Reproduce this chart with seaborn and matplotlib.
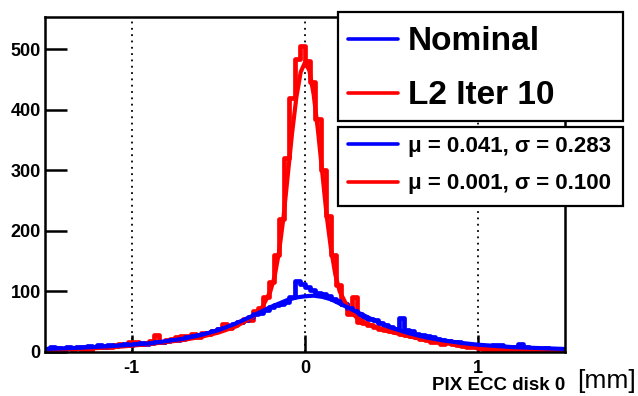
import numpy as np
import pandas as pd
import matplotlib
matplotlib.use("Agg")
import matplotlib.pyplot as plt
from matplotlib.patches import Rectangle
from matplotlib.lines import Line2D
import seaborn as sns

# histogram binning: 100 bins from -1.5 to 1.5
bin_edges = np.linspace(-1.5, 1.5, 101)
bin_centers = 0.5 * (bin_edges[:-1] + bin_edges[1:])

# bin contents (left to right)
nominal_counts = [
    5, 8, 6, 5, 8, 7, 9, 8, 10, 9,
    11, 9, 12, 10, 11, 13, 12, 14, 15, 13,
    15, 17, 16, 18, 20, 19, 22, 24, 26, 28,
    30, 32, 35, 38, 40, 42, 46, 50, 53, 57,
    62, 65, 70, 74, 77, 80, 82, 90, 118, 113,
    107, 102, 97, 96, 92, 88, 85, 80, 72, 68,
    62, 58, 55, 52, 48, 45, 42, 38, 56, 36,
    34, 30, 28, 26, 24, 22, 20, 18, 17, 16,
    14, 13, 12, 11, 10, 9, 12, 11, 9, 8,
    9, 13, 8, 7, 7, 5, 6, 5, 4, 3,
]
l2_counts = [
    3, 1, 4, 5, 6, 5, 7, 1, 2, 8,
    9, 10, 8, 12, 13, 12, 16, 17, 14, 15,
    18, 28, 17, 20, 22, 24, 27, 26, 30, 25,
    32, 29, 35, 38, 47, 40, 45, 50, 55, 52,
    68, 72, 90, 115, 160, 220, 320, 420, 483, 505,
    480, 445, 385, 300, 225, 160, 110, 80, 62, 90,
    50, 48, 45, 42, 38, 36, 34, 33, 30, 28,
    26, 25, 21, 20, 17, 16, 14, 18, 13, 12,
    10, 9, 8, 7, 5, 3, 2, 1, 1, 0,
    2, 1, 1, 2, 3, 1, 0, 0, 3, 1,
]

# fitted curves
nominal_fit_x = [-1.5, -1.3, -1.1, -0.9, -0.7, -0.6, -0.5, -0.4, -0.3, -0.2,
                 -0.1, -0.05, 0.0, 0.05, 0.1, 0.15, 0.2, 0.3, 0.4, 0.5,
                 0.6, 0.7, 0.8, 0.9, 1.0, 1.2, 1.5]
nominal_fit_y = [5, 7, 10, 14, 22, 28, 36, 47, 60, 74,
                 86, 90, 92, 93, 91, 87, 80, 66, 52, 40,
                 31, 24, 19, 15, 12, 8, 5]
l2_fit_x = [-1.5, -1.3, -1.1, -0.9, -0.7, -0.6, -0.5, -0.4, -0.35, -0.3,
            -0.25, -0.2, -0.175, -0.15, -0.125, -0.1, -0.075, -0.05, -0.025, 0.0,
            0.025, 0.05, 0.075, 0.1, 0.125, 0.15, 0.175, 0.2, 0.25, 0.3,
            0.35, 0.4, 0.5, 0.6, 0.7, 0.8, 0.9, 1.0, 1.2, 1.5]
l2_fit_y = [3, 5, 8, 13, 20, 25, 32, 42, 50, 58,
            72, 100, 125, 165, 220, 290, 360, 420, 462, 478,
            465, 425, 365, 295, 225, 170, 128, 100, 72, 56,
            48, 42, 33, 26, 20, 15, 11, 8, 4, 1]

series_labels = ["Nominal", "L2 Iter 10"]
fit_labels = ["\u03bc = 0.041, \u03c3 = 0.283", "\u03bc = 0.001, \u03c3 = 0.100"]
colors = ["#0000ff", "#ff0000"]

sns.set_style("ticks")
plt.rcParams["font.family"] = ["Liberation Sans", "DejaVu Sans"]
plt.rcParams["font.weight"] = "bold"
plt.rcParams["text.color"] = "black"
plt.rcParams["xtick.color"] = "black"
plt.rcParams["ytick.color"] = "black"
plt.rcParams["xtick.labelcolor"] = "black"
plt.rcParams["ytick.labelcolor"] = "black"

W, H = 638, 396
fig = plt.figure(figsize=(W / 100, H / 100), dpi=100)
ax = fig.add_axes([45 / W, 1 - 352 / H, 520 / W, 335 / H])

# dotted grid at the major x ticks
for xv in [-1, 0, 1]:
    ax.axvline(xv, color="black", ls=(0, (1, 2.5)), lw=1.3, zorder=0)

hist_df = pd.DataFrame({
    "x": np.concatenate([bin_centers, bin_centers]),
    "w": np.array(nominal_counts + l2_counts, dtype=float),
    "series": [series_labels[0]] * 100 + [series_labels[1]] * 100,
})

# red first, blue on top
for name, col in [(series_labels[1], colors[1]), (series_labels[0], colors[0])]:
    sub = hist_df[hist_df["series"] == name].reset_index(drop=True)
    sns.histplot(data=sub, x="x", weights="w", binwidth=0.03, binrange=(-1.5, 1.5),
                 element="step", fill=False, color=col, linewidth=3.4, ax=ax)

sns.lineplot(x=l2_fit_x, y=l2_fit_y, color=colors[1], linewidth=3, ax=ax)
sns.lineplot(x=nominal_fit_x, y=nominal_fit_y, color=colors[0], linewidth=3, ax=ax)

ax.set_xlim(-1.5, 1.5)
ax.set_ylim(0, 553)
ax.set_xticks([-1, 0, 1])
ax.set_xticklabels(["-1", "0", "1"])
ax.set_yticks([0, 100, 200, 300, 400, 500])
ax.tick_params(axis="y", direction="in", length=16, width=1.8, labelsize=13, pad=3,
               colors="black")
ax.tick_params(axis="x", direction="in", length=12, width=1.8, labelsize=13, pad=6,
               colors="black")
for lab in ax.get_xticklabels() + ax.get_yticklabels():
    lab.set_fontweight("bold")
for sp in ax.spines.values():
    sp.set_visible(True)
    sp.set_linewidth(1.8)
    sp.set_color("black")
ax.set_xlabel("")
ax.set_ylabel("")

# axis titles
fig.text(565 / W, 1 - 386 / H, "PIX ECC disk 0", ha="right", va="center",
         fontsize=13.5, fontweight="bold", color="black")
fig.text(636 / W, 1 - 381 / H, "[mm]", ha="right", va="center",
         fontsize=19, fontweight="normal", color="black")


def fx(px):
    return px / W


def fy(py):
    return 1 - py / H


# legend boxes drawn in figure pixels
boxes = [(338, 12, 623, 121), (338, 127, 623, 206)]
for x0, y0, x1, y1 in boxes:
    fig.patches.append(Rectangle((fx(x0), fy(y1)), fx(x1) - fx(x0), fy(y0) - fy(y1),
                                 transform=fig.transFigure, facecolor="white",
                                 edgecolor="black", lw=1.6, zorder=5))

legend_rows = [
    (41, series_labels[0], colors[0], 24),
    (95, series_labels[1], colors[1], 24),
    (146, fit_labels[0], colors[0], 16),
    (184, fit_labels[1], colors[1], 16),
]
for py, txt, col, fs in legend_rows:
    fig.lines.append(Line2D([fx(348), fx(398)], [fy(py - 2), fy(py - 2)],
                            transform=fig.transFigure, color=col, lw=2.6, zorder=6))
    fig.text(fx(408), fy(py), txt, ha="left", va="center", fontsize=fs,
             fontweight="bold", color="black", zorder=6)

fig.savefig("out.png", dpi=100)
